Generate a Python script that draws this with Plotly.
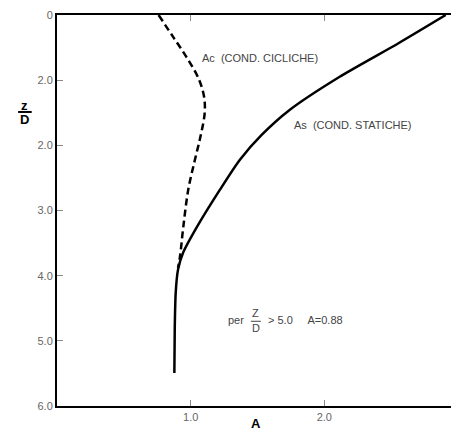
import plotly.graph_objects as go

# As (static conditions) curve
as_a = [2.908, 2.558, 2.112, 1.740, 1.531, 1.367, 1.218, 1.047, 0.943, 0.905, 0.888, 0.881, 0.878]
as_z = [0.0, 0.429, 0.951, 1.457, 1.840, 2.224, 2.684, 3.252, 3.650, 3.911, 4.264, 4.800, 5.495]

# Ac (cyclic conditions) curve
ac_a = [0.76, 0.87, 0.97, 1.06, 1.100, 1.105, 1.075, 1.032, 0.982, 0.945, 0.920, 0.905]
ac_z = [0.0, 0.34, 0.65, 0.98, 1.25, 1.50, 1.85, 2.22, 2.68, 3.25, 3.71, 3.88]

x_ticks = [1.0, 2.0]
x_ticktext = ["1.0", "2.0"]
y_ticks = [0, 1, 2, 3, 4, 5, 6]
y_ticktext = ["0", "2.0", "2.0", "3.0", "4.0", "5.0", "6.0"]

x_range = [0, 3.0]
y_range = [6.0, 0]

FONT = "Liberation Sans, Arial, sans-serif"
TICK_GRAY = "#8a8a8a"

fig = go.Figure()
fig.add_trace(
    go.Scatter(
        x=as_a, y=as_z, mode="lines",
        line=dict(color="black", width=2.5, shape="spline", smoothing=0.7),
        hoverinfo="skip", showlegend=False,
    )
)
fig.add_trace(
    go.Scatter(
        x=ac_a, y=ac_z, mode="lines",
        line=dict(color="black", width=2.5, dash="7px,4px", shape="spline", smoothing=1.0),
        hoverinfo="skip", showlegend=False,
    )
)
# dummy trace so the mirrored top/right axes get drawn
fig.add_trace(
    go.Scatter(x=[None], y=[None], xaxis="x2", yaxis="y2", showlegend=False, hoverinfo="skip")
)

tick_common = dict(ticks="inside", ticklen=6, tickwidth=1, tickcolor=TICK_GRAY,
                   showgrid=False, zeroline=False)

# the page body has an 8px margin, so the figure is sized 8px smaller
fig.update_layout(
    width=451,
    height=425,
    margin=dict(l=49, r=1, t=7, b=27),
    paper_bgcolor="white",
    plot_bgcolor="white",
    font=dict(family=FONT, size=11, color="#555555"),
    xaxis=dict(
        range=x_range, tickvals=x_ticks, ticktext=x_ticktext,
        showline=True, linecolor="black", linewidth=2,
        tickfont=dict(size=11, color="#666666"),
        **tick_common,
    ),
    yaxis=dict(
        range=y_range, tickvals=y_ticks, ticktext=y_ticktext,
        showline=True, linecolor="black", linewidth=2,
        tickfont=dict(size=11, color="#666666"),
        **tick_common,
    ),
    xaxis2=dict(
        range=x_range, tickvals=x_ticks, showticklabels=False,
        overlaying="x", side="top", anchor="y2",
        showline=True, linecolor="black", linewidth=1.5,
        **tick_common,
    ),
    yaxis2=dict(
        range=y_range, tickvals=y_ticks, showticklabels=False,
        overlaying="y", side="right", anchor="x2",
        showline=True, linecolor="#dddddd", linewidth=1,
        **tick_common,
    ),
)

label_font = dict(family=FONT, size=11, color="#444444")
annotations = [
    dict(x=1.07, y=0.66, text="Ac  (COND. CICLICHE)", xanchor="left"),
    dict(x=1.76, y=1.69, text="As  (COND. STATICHE)", xanchor="left"),
    dict(x=1.262, y=4.68, text="per", xanchor="left"),
    dict(x=1.486, y=4.57, text="Z", xanchor="center"),
    dict(x=1.486, y=4.81, text="D", xanchor="center"),
    dict(x=1.56, y=4.68, text="> 5.0     A=0.88", xanchor="left"),
]
for a in annotations:
    fig.add_annotation(xref="x", yref="y", yanchor="middle", showarrow=False,
                       font=label_font, **a)

# fraction bar in "Z/D"
fig.add_shape(type="line", xref="x", yref="y", x0=1.45, x1=1.525, y0=4.70, y1=4.70,
              line=dict(color="#444444", width=1))

# axis titles
bold = dict(family=FONT, size=13, color="black")
fig.add_annotation(xref="paper", yref="paper", x=-0.08, y=0.768, text="<b>z</b>",
                   showarrow=False, font=bold, xanchor="center", yanchor="middle")
fig.add_annotation(xref="paper", yref="paper", x=-0.08, y=0.733, text="<b>D</b>",
                   showarrow=False, font=bold, xanchor="center", yanchor="middle")
fig.add_shape(type="line", xref="paper", yref="paper", x0=-0.097, x1=-0.063,
              y0=0.752, y1=0.752, line=dict(color="black", width=2))
fig.add_annotation(xref="x", yref="paper", x=1.49, y=-0.046, text="<b>A</b>",
                   showarrow=False, font=bold, xanchor="center", yanchor="middle")

fig.write_html("out.html")
